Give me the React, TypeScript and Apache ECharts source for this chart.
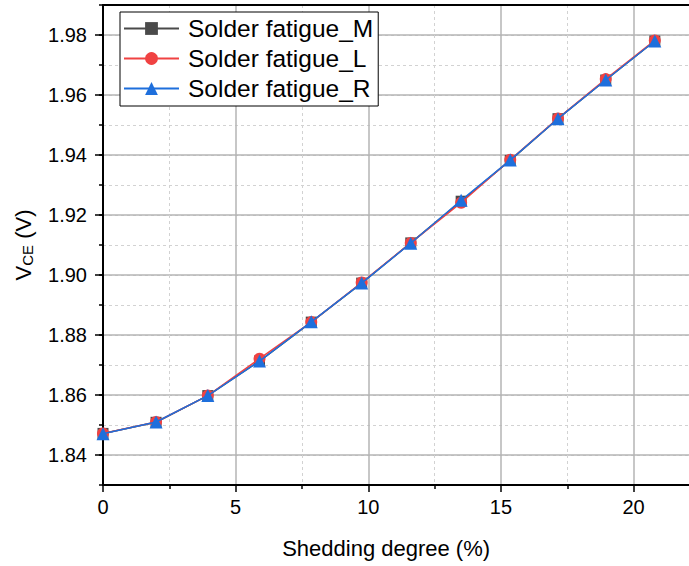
import { useEffect, useRef } from 'react';
import * as echarts from 'echarts';

const shedding = [0, 2.0, 3.95, 5.9, 7.85, 9.75, 11.6, 13.5, 15.35, 17.15, 18.95, 20.8];
const fatigueM = [1.8472, 1.8509, 1.8598, 1.8713, 1.8843, 1.8973, 1.9107, 1.9246, 1.9382, 1.9521, 1.965, 1.978];
const fatigueL = [1.8472, 1.851, 1.8598, 1.8721, 1.8843, 1.8975, 1.9107, 1.9241, 1.9384, 1.9522, 1.9653, 1.9782];
const fatigueR = [1.8471, 1.851, 1.8598, 1.8713, 1.8844, 1.8973, 1.9106, 1.9249, 1.9383, 1.9521, 1.965, 1.978];
const yMajorTicks = [1.84, 1.86, 1.88, 1.9, 1.92, 1.94, 1.96, 1.98];
const seriesNames = ['Solder fatigue_M', 'Solder fatigue_L', 'Solder fatigue_R'];

const FONT = '"Liberation Sans", Arial, Helvetica, sans-serif';

export default function App() {
  const ref = useRef<HTMLDivElement>(null);
  useEffect(() => {
    if (!ref.current) return;
    const chart = echarts.init(ref.current, null, { renderer: 'svg' });
    const mk = (ys: number[]) => shedding.map((x, i) => [x, ys[i]]);
    const yBase = { type: 'value', min: 1.83, max: 1.99, interval: 0.01 };
    chart.setOption({
      animation: false,
      backgroundColor: '#fff',
      textStyle: { fontFamily: FONT },
      grid: { left: 103, top: 5, width: 663.25, height: 480, containLabel: false },
      legend: {
        orient: 'vertical',
        left: 120,
        top: 12,
        backgroundColor: '#fff',
        borderColor: '#000',
        borderWidth: 1,
        borderRadius: 0,
        padding: [4, 5, 5, 3],
        itemWidth: 55,
        itemHeight: 16,
        itemGap: 5,
        textStyle: { fontSize: 24.5, color: '#000', fontFamily: FONT, padding: [0, 0, 0, 4] },
        data: seriesNames,
      },
      xAxis: [
        {
          type: 'value',
          min: 0,
          max: 25,
          interval: 5,
          position: 'bottom',
          axisLine: { show: true, onZero: false, lineStyle: { color: '#000', width: 2 } },
          axisTick: { show: true, length: 7, lineStyle: { color: '#000', width: 1.5 } },
          minorTick: { show: true, splitNumber: 2, length: 4, lineStyle: { color: '#000', width: 1.5 } },
          axisLabel: { fontSize: 20, color: '#000', margin: 12, fontFamily: FONT, showMaxLabel: false },
          splitLine: { show: true, lineStyle: { color: '#b4b4b4', width: 1.5 } },
          minorSplitLine: { show: true, lineStyle: { color: '#d2d2d2', width: 1, type: [3, 3] } },
          name: 'Shedding degree (%)',
          nameLocation: 'middle',
          nameGap: 52,
          nameTextStyle: { fontSize: 22, color: '#000', fontFamily: FONT, padding: [0, 97, 0, 0] },
        },
        {
          type: 'value',
          min: 0,
          max: 25,
          interval: 5,
          position: 'top',
          axisLine: { show: true, onZero: false, lineStyle: { color: '#000', width: 2 } },
          axisTick: { show: false },
          axisLabel: { show: false },
          splitLine: { show: false },
        },
      ],
      yAxis: [
        {
          ...yBase,
          position: 'left',
          axisLine: { show: true, onZero: false, lineStyle: { color: '#000', width: 2 } },
          axisTick: { show: true, length: 4, lineStyle: { color: '#000', width: 1.5 } },
          axisLabel: { show: false },
          splitLine: { show: true, lineStyle: { color: '#d2d2d2', width: 1, type: [3, 3] } },
        },
        {
          ...yBase,
          position: 'left',
          axisLine: { show: false },
          axisTick: { show: true, length: 8, customValues: yMajorTicks, lineStyle: { color: '#000', width: 1.5 } },
          axisLabel: {
            show: true,
            customValues: yMajorTicks,
            fontSize: 20,
            color: '#000',
            margin: 16,
            fontFamily: FONT,
            formatter: (v: number) => v.toFixed(2),
          },
          splitLine: { show: true, lineStyle: { color: '#b4b4b4', width: 1.5 } },
          name: '{a|V}{b|CE}{a| (V)}',
          nameLocation: 'middle',
          nameGap: 68,
          nameTextStyle: {
            fontSize: 22,
            color: '#000',
            fontFamily: FONT,
            rich: {
              a: { fontSize: 22, color: '#000', fontFamily: FONT },
              b: { fontSize: 15, color: '#000', fontFamily: FONT, padding: [9, 0, 0, 0] },
            },
          },
        },
      ],
      series: [
        {
          name: seriesNames[0],
          type: 'line',
          data: mk(fatigueM),
          symbol: 'rect',
          symbolSize: 11,
          itemStyle: { color: '#4a4a4a' },
          lineStyle: { color: '#4a4a4a', width: 1.5 },
          z: 3,
        },
        {
          name: seriesNames[1],
          type: 'line',
          data: mk(fatigueL),
          symbol: 'circle',
          symbolSize: 12,
          itemStyle: { color: '#f04242' },
          lineStyle: { color: '#f04242', width: 1.5 },
          z: 4,
        },
        {
          name: seriesNames[2],
          type: 'line',
          data: mk(fatigueR),
          symbol: 'triangle',
          symbolSize: 13,
          itemStyle: { color: '#1e6fdc' },
          lineStyle: { color: '#1e6fdc', width: 1.5 },
          z: 5,
        },
      ],
    });
    return () => chart.dispose();
  }, []);
  return (
    <div style={{ position: 'fixed', left: 0, top: 0, width: 689, height: 566, overflow: 'hidden', background: '#fff' }}>
      <div ref={ref} style={{ position: 'absolute', left: 0, top: 0, width: 767, height: 566 }} />
    </div>
  );
}
